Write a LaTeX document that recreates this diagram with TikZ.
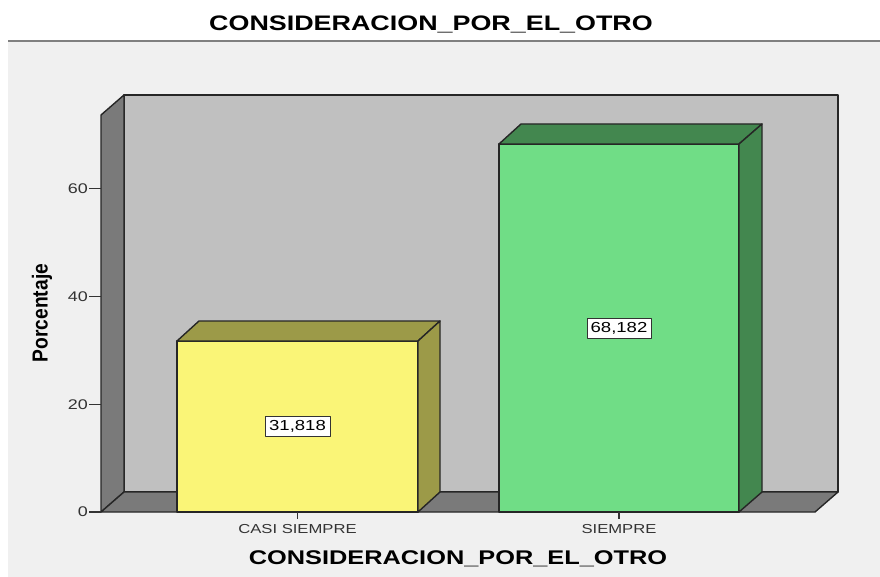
\documentclass[tikz,border=0pt]{standalone}
\usepackage{fontspec}
\setmainfont{Liberation Sans}
\usetikzlibrary{positioning}

\definecolor{panel}{HTML}{F0F0F0}
\definecolor{wall}{HTML}{C0C0C0}
\definecolor{sidewall}{HTML}{7A7A7A}
\definecolor{yelfront}{HTML}{FAF577}
\definecolor{yelside}{HTML}{9C9A48}
\definecolor{grnfront}{HTML}{70DD86}
\definecolor{grnside}{HTML}{43874F}
\definecolor{ticktext}{HTML}{333333}

\begin{document}
\begin{tikzpicture}[x=1pt, y=-1pt, line join=round,
  txt/.style={xscale=1.28, inner sep=0pt},
  edge/.style={draw=black!85, line width=1.4pt},
  tickline/.style={draw=black!80, line width=1.2pt}]

\useasboundingbox (0,0) rectangle (880,577);
\fill [white] (0,0) rectangle (880,577);
\fill [panel] (8,41) rectangle (880,577);
\draw [gray][line width=2pt] (8,41) -- (880,41);

\node [txt, font=\fontsize{21}{21}\bfseries\selectfont] (title) at (431,24.5) {CONSIDERACION\_POR\_EL\_OTRO};

% back wall, side wall and floor
\draw [edge, fill=wall] (124,95) rectangle (838,492);
\draw [edge, fill=sidewall] (101,115) -- (124,95) -- (124,492) -- (101,512) -- cycle;
\draw [edge, fill=sidewall] (101,512) -- (124,492) -- (838,492) -- (815,512) -- cycle;

\foreach \v/\y in {0/512,20/404.3,40/296.6,60/188.9}
{
  \draw [tickline] (89,\y) -- (101,\y);
  \node [txt, anchor=east, text=ticktext, font=\fontsize{14}{14}\selectfont] (tick\v) at (88,\y) {\v};
}

\node [rotate=90, txt, yscale=1.45, font=\fontsize{15}{15}\bfseries\selectfont] (ylabel) at (42,313) {Porcentaje};

% CASI SIEMPRE
\draw [edge, fill=yelfront] (177,341) rectangle (418,512);
\draw [edge, fill=yelside] (177,341) -- (199,321) -- (440,321) -- (418,341) -- cycle;
\draw [edge, fill=yelside] (418,341) -- (440,321) -- (440,492) -- (418,512) -- cycle;
\node [txt, draw=black!80, fill=white, inner xsep=3pt, minimum height=20pt, font=\fontsize{14.5}{14.5}\selectfont] (valcasi) at (297.5,426.5) {31,818};

% SIEMPRE
\draw [edge, fill=grnfront] (499,144) rectangle (739,512);
\draw [edge, fill=grnside] (499,144) -- (521,124) -- (762,124) -- (739,144) -- cycle;
\draw [edge, fill=grnside] (739,144) -- (762,124) -- (762,492) -- (739,512) -- cycle;
\node [txt, draw=black!80, fill=white, inner xsep=3pt, minimum height=20pt, font=\fontsize{14.5}{14.5}\selectfont] (valsiempre) at (619,328) {68,182};

\draw [tickline] (297.5,512) -- (297.5,519);
\node [txt, text=ticktext, font=\fontsize{13}{13}\selectfont] (casi) at (297.5,529.5) {CASI SIEMPRE};
\draw [tickline] (619,512) -- (619,519);
\node [txt, text=ticktext, font=\fontsize{13}{13}\selectfont] (siempre) at (619,529.5) {SIEMPRE};

\node [txt, font=\fontsize{19.8}{20}\bfseries\selectfont] (xtitle) at (458,559) {CONSIDERACION\_POR\_EL\_OTRO};
\end{tikzpicture}
\end{document}
